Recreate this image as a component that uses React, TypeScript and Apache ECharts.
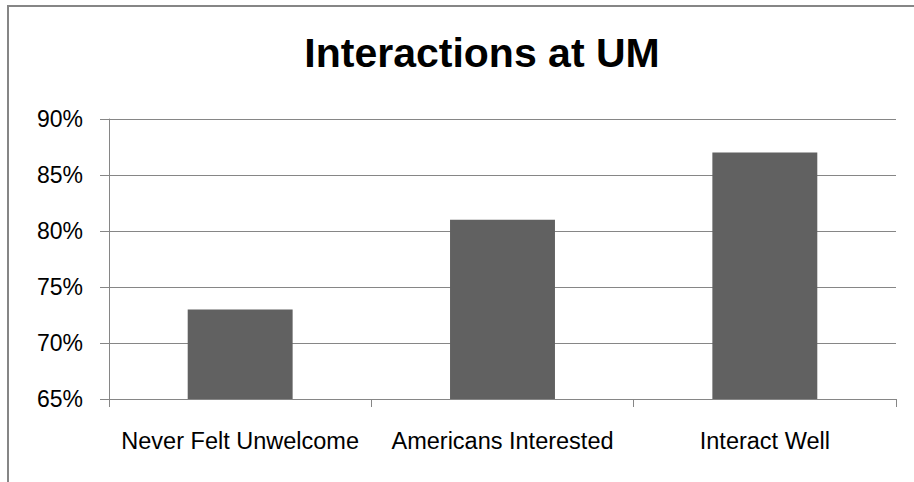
import React, { useEffect, useRef } from "react";
import * as echarts from "echarts";

const categories = ["Never Felt Unwelcome", "Americans Interested", "Interact Well"];
const values = [73, 81, 87];
const yTicks = { min: 65, max: 90, interval: 5 };

const FONT = "'Liberation Sans', Arial, sans-serif";
const GRAY = "#868686";

export default function App() {
  const ref = useRef<HTMLDivElement>(null);

  useEffect(() => {
    if (!ref.current) return;
    const chart = echarts.init(ref.current, undefined, { renderer: "svg" });
    chart.setOption({
      animation: false,
      backgroundColor: "#ffffff",
      title: {
        text: "Interactions at UM",
        left: 477,
        textAlign: "center",
        top: 27,
        textStyle: { fontFamily: FONT, fontWeight: "bold", fontSize: 41, color: "#000" },
      },
      graphic: [
        {
          type: "rect",
          shape: { x: 8, y: 6, width: 940, height: 520 },
          style: { fill: "none", stroke: GRAY, lineWidth: 2 },
          silent: true,
        },
      ],
      grid: { left: 109, right: 18, top: 119, bottom: 83 },
      xAxis: {
        type: "category",
        data: categories,
        boundaryGap: true,
        axisLine: { lineStyle: { color: GRAY, width: 1 } },
        axisTick: { show: true, length: 8, interval: 0, lineStyle: { color: GRAY } },
        axisLabel: { fontFamily: FONT, fontSize: 23.5, color: "#000", margin: 30, interval: 0 },
        splitLine: { show: false },
      },
      yAxis: {
        type: "value",
        min: yTicks.min,
        max: yTicks.max,
        interval: yTicks.interval,
        axisLine: { show: true, lineStyle: { color: GRAY, width: 1 } },
        axisTick: { show: true, length: 9, lineStyle: { color: GRAY } },
        axisLabel: { fontFamily: FONT, fontSize: 23, color: "#000", margin: 26, formatter: "{value}%" },
        splitLine: { show: true, lineStyle: { color: GRAY, width: 1 } },
      },
      series: [
        {
          type: "bar",
          data: values,
          barWidth: "40%",
          itemStyle: { color: "#616161" },
        },
      ],
    });
    return () => chart.dispose();
  }, []);

  return (
    <div style={{ position: "fixed", left: 0, top: 0, width: 914, height: 482, background: "#fff" }}>
      <div ref={ref} style={{ width: 914, height: 482 }} />
    </div>
  );
}
